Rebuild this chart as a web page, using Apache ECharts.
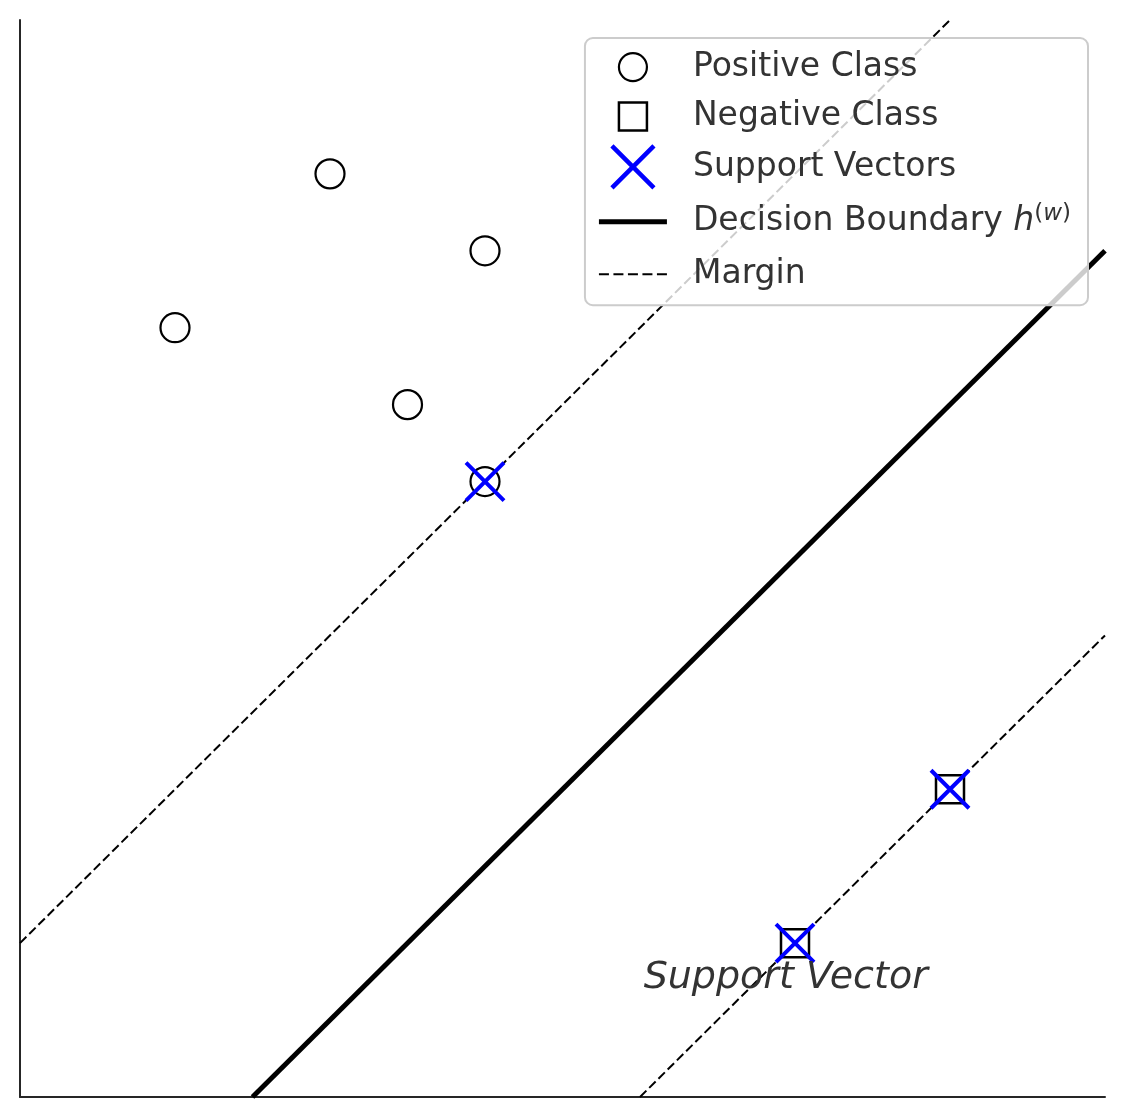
<!DOCTYPE html>
<html>
<head>
<meta charset="utf-8">
<script src="https://cdn.jsdelivr.net/npm/echarts@6/dist/echarts.min.js"></script>
<style>
  html, body { margin: 0; padding: 0; background: #fff; }
  #chart { width: 1124px; height: 1118px; }
</style>
</head>
<body>
<div id="chart"></div>
<script>
// data
const positivePts = [[2, 6], [3, 5.5], [1, 5], [2.5, 4.5], [3, 4]];
const negativePts = [[6, 2], [5, 1]];
const supportPts = [[3, 4], [6, 2], [5, 1]];
const boundaryLine = [[1.5, 0], [7, 5.5]];
const marginUpper = [[0, 1], [6, 7]];
const marginLower = [[4, 0], [7, 3]];
const annotation = [[4.94, 0.77]];
const axisRange = [0, 7];

const textColor = '#333333';
const font = 'DejaVu Sans';

// legend icons, padded inside a 68x42 box so the sizes match the plot markers
const iconCircle = 'path://M0 0M42 42M35 21A14 14 0 1 1 7 21A14 14 0 1 1 35 21Z';
const iconSquare = 'path://M0 0M42 42M7 7L35 7L35 35L7 35Z';
const iconCross = 'path://M0 0L42 42M42 0L0 42';
const iconSolid = 'path://M0 0M68 42M0 18.5L68 18.5L68 23.5L0 23.5Z';
const iconDash = 'path://M0 0M68 42M0 20L10 20L10 22L0 22ZM14.5 20L24.5 20L24.5 22L14.5 22ZM29 20L39 20L39 22L29 22ZM43.5 20L53.5 20L53.5 22L43.5 22ZM58 20L68 20L68 22L58 22Z';

const chart = echarts.init(document.getElementById('chart'));
chart.setOption({
  animation: false,
  backgroundColor: '#ffffff',
  textStyle: { fontFamily: font },
  grid: { left: 20, right: 19, top: 20, bottom: 21 },
  xAxis: {
    type: 'value', min: axisRange[0], max: axisRange[1],
    axisLine: { show: true, lineStyle: { color: '#262626', width: 2 } },
    axisTick: { show: false }, axisLabel: { show: false }, splitLine: { show: false }
  },
  yAxis: {
    type: 'value', min: axisRange[0], max: axisRange[1],
    axisLine: { show: true, lineStyle: { color: '#262626', width: 2 } },
    axisTick: { show: false }, axisLabel: { show: false }, splitLine: { show: false }
  },
  legend: {
    orient: 'vertical',
    right: 36, top: 38,
    padding: [7, 17, 10, 14],
    itemWidth: 68, itemHeight: 42, itemGap: 5,
    selectedMode: false,
    backgroundColor: 'rgba(255,255,255,0.8)',
    borderColor: '#cccccc', borderWidth: 2, borderRadius: 8,
    textStyle: {
      fontFamily: font, fontSize: 33, lineHeight: 40, color: textColor, padding: [0, 0, 0, 21],
      rich: {
        n: { fontFamily: font, fontSize: 33, lineHeight: 53, color: textColor },
        i: { fontFamily: font, fontSize: 33, lineHeight: 53, fontStyle: 'italic', color: textColor },
        sup: { fontFamily: font, fontSize: 23, color: textColor, verticalAlign: 'top', lineHeight: 26, padding: [7, 0, 0, 0] },
        supi: { fontFamily: font, fontSize: 23, fontStyle: 'italic', color: textColor, verticalAlign: 'top', lineHeight: 26, padding: [7, 0, 0, 0] }
      }
    },
    formatter: function (name) {
      if (name === 'Decision Boundary') return '{n|Decision Boundary }{i|h}{sup|(}{supi|w}{sup|)}';
      return name;
    },
    data: [
      { name: 'Positive Class', icon: iconCircle, itemStyle: { color: 'rgba(0,0,0,0)', borderColor: '#000', borderWidth: 2.2, opacity: 1 } },
      { name: 'Negative Class', icon: iconSquare, itemStyle: { color: 'rgba(0,0,0,0)', borderColor: '#000', borderWidth: 2.5, opacity: 1 } },
      { name: 'Support Vectors', icon: iconCross, itemStyle: { color: 'rgba(0,0,0,0)', borderColor: '#0000ff', borderWidth: 4.5, opacity: 1 } },
      { name: 'Decision Boundary', icon: iconSolid, itemStyle: { color: '#000', borderWidth: 0, opacity: 1 } },
      { name: 'Margin', icon: iconDash, itemStyle: { color: '#000', borderWidth: 0, opacity: 1 } }
    ]
  },
  series: [
    {
      name: 'Margin', type: 'line', data: marginUpper, symbol: 'none', z: 2,
      itemStyle: { color: '#000' },
      lineStyle: { color: '#000', width: 2, type: [9, 4] }
    },
    {
      name: 'Margin', type: 'line', data: marginLower, symbol: 'none', z: 2,
      itemStyle: { color: '#000' },
      lineStyle: { color: '#000', width: 2, type: [9, 4] }
    },
    {
      name: 'Decision Boundary', type: 'line', data: boundaryLine, symbol: 'none', z: 2,
      itemStyle: { color: '#000' },
      lineStyle: { color: '#000', width: 5 }
    },
    {
      name: 'Positive Class', type: 'scatter', data: positivePts, symbol: 'circle', symbolSize: 29, z: 3,
      itemStyle: { color: 'rgba(0,0,0,0)', borderColor: '#000', borderWidth: 2.2, opacity: 1 }
    },
    {
      name: 'Negative Class', type: 'scatter', data: negativePts, symbol: 'rect', symbolSize: 28, z: 3,
      itemStyle: { color: 'rgba(0,0,0,0)', borderColor: '#000', borderWidth: 2.5, opacity: 1 }
    },
    {
      name: 'Support Vectors', type: 'scatter', data: supportPts,
      symbol: 'path://M0 0L10 10M10 0L0 10', symbolSize: 38, z: 4,
      itemStyle: { color: 'rgba(0,0,0,0)', borderColor: '#0000ff', borderWidth: 4, opacity: 1 }
    },
    {
      name: 'annotation', type: 'scatter', data: annotation, symbolSize: 0, z: 5,
      itemStyle: { opacity: 1 },
      label: {
        show: true, position: 'inside', formatter: 'Support Vector',
        fontFamily: font, fontSize: 38, fontStyle: 'italic', color: textColor
      }
    }
  ]
});
</script>
</body>
</html>
